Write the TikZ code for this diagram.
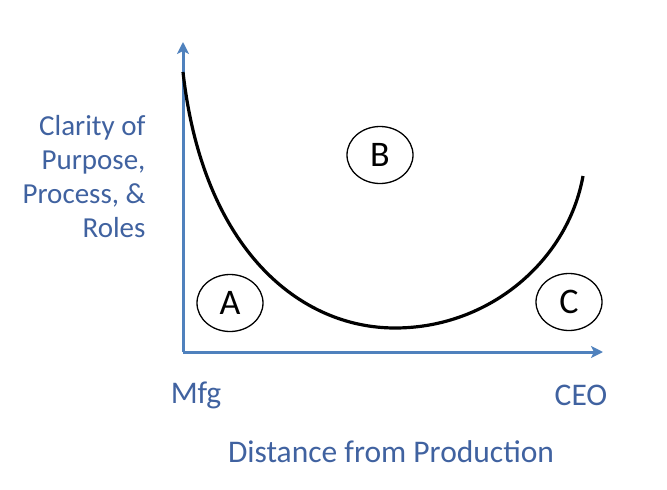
\documentclass[tikz,border=0pt]{standalone}
\usepackage{fontspec}
\setmainfont{Carlito}
\usetikzlibrary{positioning}
\usetikzlibrary{shapes.geometric}
\usetikzlibrary{arrows.meta}
\definecolor{axisblue}{RGB}{79,129,189}
\definecolor{textblue}{RGB}{64,98,160}
\tikzset{
  zone/.style={ellipse,draw,line width=1.3pt,minimum width=66pt,minimum height=57pt,inner sep=0pt,font=\fontsize{36}{40}\selectfont},
  lbl/.style={text=textblue,font=\fontsize{31.5}{34}\selectfont}
}

\begin{document}
\begin{tikzpicture}[x=1pt,y=-1pt]
\useasboundingbox (0,0) rectangle (667,490);
\coordinate (O) at (183,352);
\coordinate (Ytop) at (183,42);
\coordinate (Xend) at (603,352);

\draw[axisblue,line width=3pt,-{Stealth[length=12pt,width=12pt,inset=3pt]}] (O) -- (Ytop);
\draw[axisblue,line width=3pt,-{Stealth[length=12pt,width=12pt,inset=3pt]}] (O) -- (Xend);

\coordinate (S) at (183,72);
\coordinate (M) at (395,328);
\coordinate (E) at (583,176);
\draw[line width=3.2pt] (S) .. controls (203,250) and (300,328) .. (M)
  .. controls (490,328) and (568,260) .. (E);

\node[zone] (A) at (230,303) {A};
\node[zone] (B) at (380,155) {B};
\node[zone] (C) at (569,302) {C};

\node[lbl,align=right,anchor=east,font=\fontsize{29}{34}\selectfont] (ylab) at (149,177) {Clarity of\\Purpose,\\Process, \&\\Roles};
\node[lbl] (mfg) at (196,395) {Mfg};
\node[lbl] (ceo) at (581,395) {CEO};
\node[lbl] (xlab) at (391,452) {Distance from Production};
\end{tikzpicture}
\end{document}
